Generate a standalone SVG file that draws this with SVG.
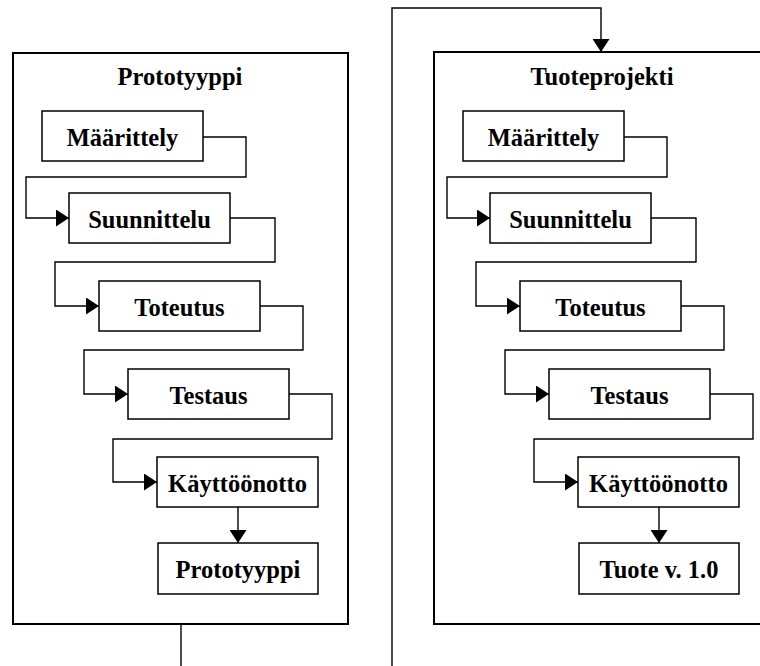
<svg xmlns="http://www.w3.org/2000/svg" width="760" height="666" viewBox="0 0 760 666">
  <style>
    .frame { fill: none; stroke: #000; stroke-width: 2; }
    .box { fill: #fff; stroke: #000; stroke-width: 1.5; }
    .wire { fill: none; stroke: #000; stroke-width: 1.4; }
    .lbl { font-family: "Liberation Serif", "Times New Roman", serif; font-weight: bold; font-size: 24.5px; fill: #000; text-anchor: middle; }
  </style>
  <defs>
    <marker id="arrow" markerUnits="userSpaceOnUse" markerWidth="13" markerHeight="17" refX="13" refY="8.5" orient="auto">
      <path d="M0,0 L13,8.5 L0,17 Z" fill="#000"/>
    </marker>
  </defs>
  <rect width="760" height="666" fill="#fff"/>

  <!-- phase containers -->
  <g id="prototype-phase">
    <rect class="frame" x="13" y="53" width="335" height="571"/>
    <text class="lbl" x="180" y="85">Prototyyppi</text>
  </g>
  <g id="product-phase">
    <rect class="frame" x="434" y="52" width="340" height="572"/>
    <text class="lbl" x="602" y="85">Tuoteprojekti</text>
  </g>

  <!-- connectors -->
  <g id="connectors">
    <path class="wire" d="M203,137 H246 V177 H26 V218 H69" marker-end="url(#arrow)"/>
    <path class="wire" d="M230,218 H275 V262 H55 V306 H99" marker-end="url(#arrow)"/>
    <path class="wire" d="M260,306 H303 V350 H84 V394 H128" marker-end="url(#arrow)"/>
    <path class="wire" d="M289,394 H332 V439 H113 V482 H157" marker-end="url(#arrow)"/>
    <path class="wire" d="M238,507 V543" marker-end="url(#arrow)"/>
    <path class="wire" d="M181,624 V666"/>

    <path class="wire" d="M392,666 V8 H601 V52" marker-end="url(#arrow)"/>

    <path class="wire" d="M624,137 H667 V177 H447 V218 H490" marker-end="url(#arrow)"/>
    <path class="wire" d="M651,218 H696 V262 H476 V306 H520" marker-end="url(#arrow)"/>
    <path class="wire" d="M681,306 H724 V350 H505 V394 H549" marker-end="url(#arrow)"/>
    <path class="wire" d="M710,394 H753 V439 H534 V482 H578" marker-end="url(#arrow)"/>
    <path class="wire" d="M659,507 V543" marker-end="url(#arrow)"/>
  </g>

  <!-- prototype steps -->
  <g id="p-maarittely">
    <rect class="box" x="42" y="111" width="161" height="50"/>
    <text class="lbl" x="122.5" y="146">Määrittely</text>
  </g>
  <g id="p-suunnittelu">
    <rect class="box" x="69" y="193" width="161" height="50"/>
    <text class="lbl" x="149.5" y="228">Suunnittelu</text>
  </g>
  <g id="p-toteutus">
    <rect class="box" x="99" y="281" width="161" height="50"/>
    <text class="lbl" x="179.5" y="316">Toteutus</text>
  </g>
  <g id="p-testaus">
    <rect class="box" x="128" y="369" width="161" height="50"/>
    <text class="lbl" x="208.5" y="404">Testaus</text>
  </g>
  <g id="p-kayttoonotto">
    <rect class="box" x="157" y="457" width="161" height="50"/>
    <text class="lbl" x="237.5" y="492">Käyttöönotto</text>
  </g>
  <g id="p-result">
    <rect class="box" x="158" y="543" width="160" height="51"/>
    <text class="lbl" x="238" y="578">Prototyyppi</text>
  </g>

  <!-- product steps -->
  <g id="t-maarittely">
    <rect class="box" x="463" y="111" width="161" height="50"/>
    <text class="lbl" x="543.5" y="146">Määrittely</text>
  </g>
  <g id="t-suunnittelu">
    <rect class="box" x="490" y="193" width="161" height="50"/>
    <text class="lbl" x="570.5" y="228">Suunnittelu</text>
  </g>
  <g id="t-toteutus">
    <rect class="box" x="520" y="281" width="161" height="50"/>
    <text class="lbl" x="600.5" y="316">Toteutus</text>
  </g>
  <g id="t-testaus">
    <rect class="box" x="549" y="369" width="161" height="50"/>
    <text class="lbl" x="629.5" y="404">Testaus</text>
  </g>
  <g id="t-kayttoonotto">
    <rect class="box" x="578" y="457" width="161" height="50"/>
    <text class="lbl" x="658.5" y="492">Käyttöönotto</text>
  </g>
  <g id="t-result">
    <rect class="box" x="579" y="543" width="160" height="51"/>
    <text class="lbl" x="659" y="578">Tuote v. 1.0</text>
  </g>
</svg>
